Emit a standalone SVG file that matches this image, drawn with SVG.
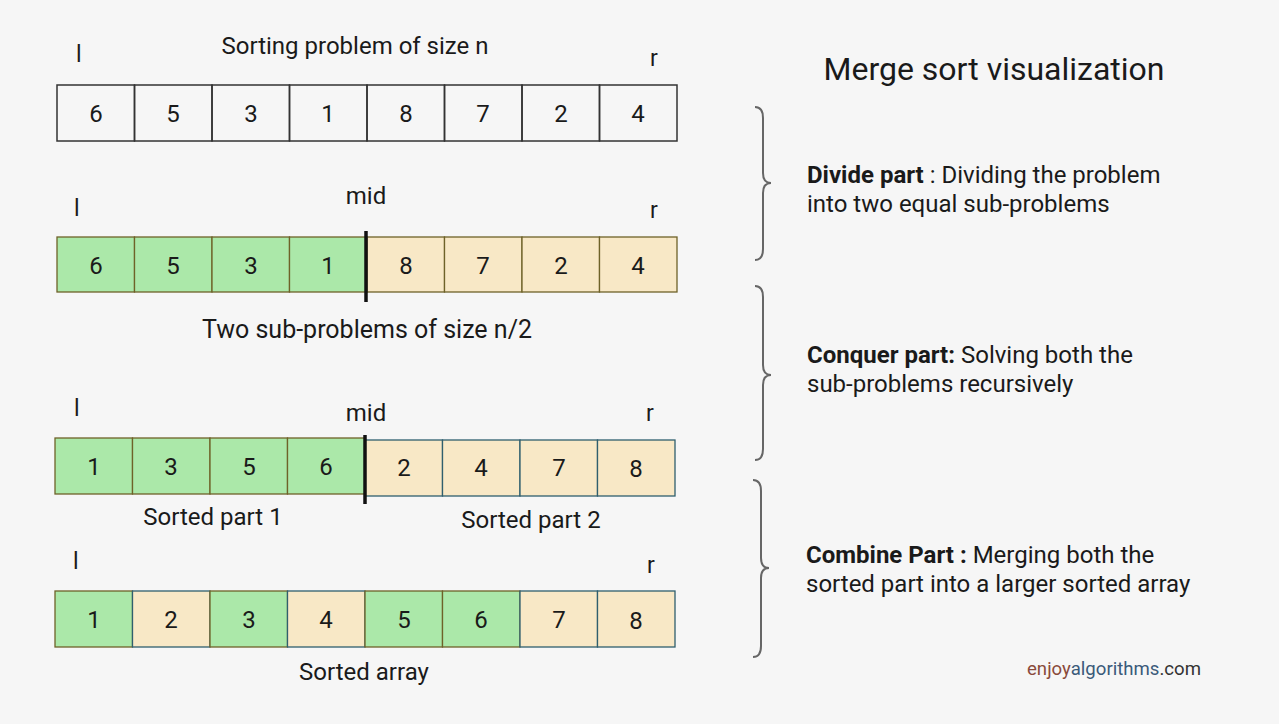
<svg xmlns="http://www.w3.org/2000/svg" width="1279" height="724" viewBox="0 0 1279 724">
<style>
text{font-family:Roboto,"Liberation Sans",sans-serif;fill:#1a1a1a}
.num{font-size:24px;text-anchor:middle}
.lbl{font-size:24px;text-anchor:middle}
.ptr{font-size:23px}
.desc{font-size:24px}
.b{font-weight:bold}
.w{fill:none;stroke:#333;stroke-width:1.5}
.g{fill:#abe8a9;stroke:#6e6228;stroke-width:1.3}
.c{fill:#f8e8c6;stroke:#2f5f6e;stroke-width:1.3}
.c2{fill:#f8e8c6;stroke:#6e6228;stroke-width:1.3}
.brace{fill:none;stroke:#666;stroke-width:2}
.mid{stroke:#111;stroke-width:3.5}
</style>
<rect width="1279" height="724" fill="#f6f6f6"/>

<g id="array1">
<text class="ptr" x="76" y="62">l</text>
<text class="lbl" x="355" y="54">Sorting problem of size n</text>
<text class="ptr" x="650" y="66">r</text>
<rect class="w" x="57" y="85" width="77.5" height="56"/>
<rect class="w" x="134.5" y="85" width="77.5" height="56"/>
<rect class="w" x="212" y="85" width="77.5" height="56"/>
<rect class="w" x="289.5" y="85" width="77.5" height="56"/>
<rect class="w" x="367" y="85" width="77.5" height="56"/>
<rect class="w" x="444.5" y="85" width="77.5" height="56"/>
<rect class="w" x="522" y="85" width="77.5" height="56"/>
<rect class="w" x="599.5" y="85" width="77.5" height="56"/>
<text class="num" x="96" y="122">6</text>
<text class="num" x="173" y="122">5</text>
<text class="num" x="251" y="122">3</text>
<text class="num" x="328" y="122">1</text>
<text class="num" x="406" y="122">8</text>
<text class="num" x="483" y="122">7</text>
<text class="num" x="561" y="122">2</text>
<text class="num" x="638" y="122">4</text>
</g>

<g id="array2">
<text class="ptr" x="74" y="216">l</text>
<text class="lbl" x="366" y="204">mid</text>
<text class="ptr" x="650" y="218">r</text>
<rect class="g" x="57" y="237" width="77.5" height="55"/>
<rect class="g" x="134.5" y="237" width="77.5" height="55"/>
<rect class="g" x="212" y="237" width="77.5" height="55"/>
<rect class="g" x="289.5" y="237" width="77.5" height="55"/>
<rect class="c2" x="367" y="237" width="77.5" height="55"/>
<rect class="c2" x="444.5" y="237" width="77.5" height="55"/>
<rect class="c2" x="522" y="237" width="77.5" height="55"/>
<rect class="c2" x="599.5" y="237" width="77.5" height="55"/>
<line class="mid" x1="366" y1="231" x2="366" y2="302"/>
<text class="num" x="96" y="274">6</text>
<text class="num" x="173" y="274">5</text>
<text class="num" x="251" y="274">3</text>
<text class="num" x="328" y="274">1</text>
<text class="num" x="406" y="274">8</text>
<text class="num" x="483" y="274">7</text>
<text class="num" x="561" y="274">2</text>
<text class="num" x="638" y="274">4</text>
<text class="lbl" x="367" y="338" style="font-size:25px">Two sub-problems of size n/2</text>
</g>

<g id="array3">
<text class="ptr" x="74" y="416">l</text>
<text class="lbl" x="366" y="421">mid</text>
<text class="ptr" x="646" y="421">r</text>
<rect class="g" x="55" y="438" width="77.5" height="56"/>
<rect class="g" x="132.5" y="438" width="77.5" height="56"/>
<rect class="g" x="210" y="438" width="77.5" height="56"/>
<rect class="g" x="287.5" y="438" width="77.5" height="56"/>
<rect class="c" x="365" y="440" width="77.5" height="56"/>
<rect class="c" x="442.5" y="440" width="77.5" height="56"/>
<rect class="c" x="520" y="440" width="77.5" height="56"/>
<rect class="c" x="597.5" y="440" width="77.5" height="56"/>
<line class="mid" x1="365" y1="435" x2="365" y2="504"/>
<text class="num" x="94" y="475">1</text>
<text class="num" x="171" y="475">3</text>
<text class="num" x="249" y="475">5</text>
<text class="num" x="326" y="475">6</text>
<text class="num" x="404" y="476">2</text>
<text class="num" x="481" y="476">4</text>
<text class="num" x="559" y="476">7</text>
<text class="num" x="636" y="477">8</text>
<text class="lbl" x="213" y="525">Sorted part 1</text>
<text class="lbl" x="531" y="528">Sorted part 2</text>
</g>

<g id="array4">
<text class="ptr" x="73" y="569">l</text>
<text class="ptr" x="647" y="573">r</text>
<rect class="g" x="55" y="591" width="77.5" height="56"/>
<rect class="c" x="132.5" y="591" width="77.5" height="56"/>
<rect class="g" x="210" y="591" width="77.5" height="56"/>
<rect class="c" x="287.5" y="591" width="77.5" height="56"/>
<rect class="g" x="365" y="591" width="77.5" height="56"/>
<rect class="g" x="442.5" y="591" width="77.5" height="56"/>
<rect class="c" x="520" y="591" width="77.5" height="56"/>
<rect class="c" x="597.5" y="591" width="77.5" height="56"/>
<text class="num" x="94" y="628">1</text>
<text class="num" x="171" y="628">2</text>
<text class="num" x="249" y="628">3</text>
<text class="num" x="326" y="628">4</text>
<text class="num" x="404" y="628">5</text>
<text class="num" x="481" y="628">6</text>
<text class="num" x="559" y="628">7</text>
<text class="num" x="636" y="629">8</text>
<text class="lbl" x="364" y="680">Sorted array</text>
</g>

<g id="title">
<text x="994" y="80" style="font-size:32px;text-anchor:middle">Merge sort visualization</text>
</g>

<g id="braces">
<path class="brace" d="M755 107 Q763 107 763 118 L763 173 Q763 183 771 183 Q763 183 763 193 L763 249 Q763 260 755 260"/>
<path class="brace" d="M755 286 Q763 286 763 297 L763 365 Q763 375 771 375 Q763 375 763 385 L763 449 Q763 460 755 460"/>
<path class="brace" d="M753 480 Q761 480 761 491 L761 558 Q761 568 769 568 Q761 568 761 578 L761 646 Q761 657 753 657"/>
</g>

<g id="divide">
<text class="desc" x="807" y="183"><tspan class="b">Divide part</tspan> : Dividing the problem</text>
<text class="desc" x="807" y="212">into two equal sub-problems</text>
</g>
<g id="conquer">
<text class="desc" x="807" y="363"><tspan class="b">Conquer part:</tspan> Solving both the</text>
<text class="desc" x="807" y="392">sub-problems recursively</text>
</g>
<g id="combine">
<text class="desc" x="806" y="563"><tspan class="b">Combine Part :</tspan> Merging both the</text>
<text class="desc" x="806" y="592">sorted part into a larger sorted array</text>
</g>

<g id="logo">
<text x="1027" y="675" style="font-size:18.6px"><tspan style="fill:#8a4a3a">enjoy</tspan><tspan style="fill:#3a5a7a">algorithms</tspan><tspan style="fill:#333">.com</tspan></text>
</g>
</svg>
